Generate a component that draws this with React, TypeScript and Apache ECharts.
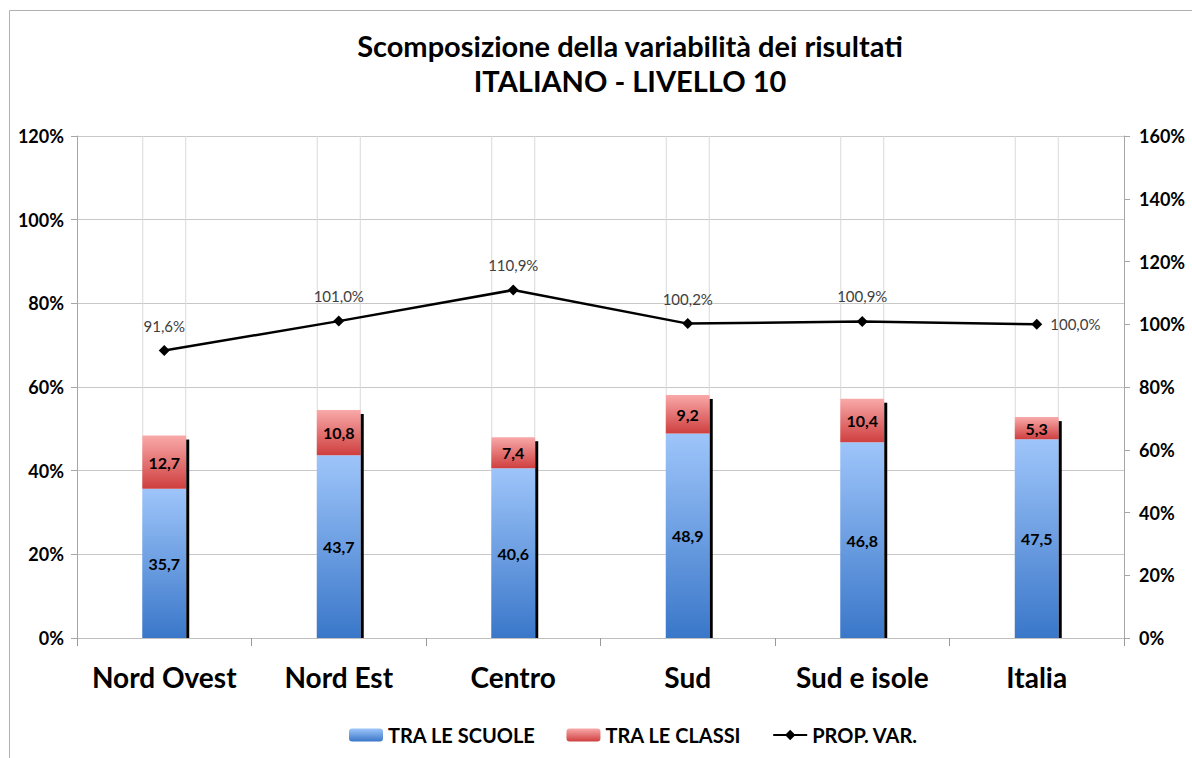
import React, { useEffect, useRef } from "react";
import * as echarts from "echarts";

const categories = ["Nord Ovest", "Nord Est", "Centro", "Sud", "Sud e isole", "Italia"];
const traLeScuole = [35.7, 43.7, 40.6, 48.9, 46.8, 47.5];
const traLeClassi = [12.7, 10.8, 7.4, 9.2, 10.4, 5.3];
const propVar = [91.6, 101.0, 110.9, 100.2, 100.9, 100.0];
const titleLines = ["Scomposizione della variabilità dei risultati", "ITALIANO - LIVELLO 10"];

const FONT = "Lato, 'Liberation Sans', sans-serif";
const fmt1 = (v: number) => v.toFixed(1).replace(".", ",");
const BAR_W = 44;

export default function App() {
  const ref = useRef<HTMLDivElement>(null);
  useEffect(() => {
    document.body.style.margin = "0";
    const chart = echarts.init(ref.current!, null, { renderer: "svg" });
    const totals = traLeScuole.map((v, i) => v + traLeClassi[i]);
    const option: any = {
      animation: false,
      backgroundColor: "#ffffff",
      textStyle: { fontFamily: FONT },
      graphic: [
        {
          type: "rect",
          shape: { x: 9.5, y: 10.5, width: 1400, height: 1000 },
          style: { fill: "none", stroke: "#b0b0b0", lineWidth: 1 },
          silent: true,
        },
        {
          type: "text",
          x: 630,
          y: 45,
          style: {
            text: titleLines[0],
            fontFamily: FONT,
            fontWeight: "bold",
            fontSize: 29,
            fill: "#000",
            textAlign: "center",
            textVerticalAlign: "middle",
          },
        },
        {
          type: "text",
          x: 630,
          y: 80,
          style: {
            text: titleLines[1],
            fontFamily: FONT,
            fontWeight: "bold",
            fontSize: 29,
            fill: "#000",
            textAlign: "center",
            textVerticalAlign: "middle",
          },
        },
      ],
      grid: { left: 77, right: 68, top: 136, bottom: 120, containLabel: false },
      legend: {
        bottom: 8,
        left: 344,
        itemWidth: 34,
        itemHeight: 13,
        itemGap: 31,
        data: ["TRA LE SCUOLE", "TRA LE CLASSI", "PROP. VAR."],
        textStyle: { fontFamily: FONT, fontWeight: "bold", fontSize: 20, color: "#000" },
      },
      xAxis: {
        type: "category",
        data: categories,
        axisLine: { lineStyle: { color: "#bfbfbf", width: 1 } },
        axisTick: { show: true, length: 8, interval: 0, lineStyle: { color: "#9a9a9a" } },
        axisLabel: {
          interval: 0,
          fontFamily: FONT,
          fontWeight: "bold",
          fontSize: 28,
          color: "#000",
          margin: 25,
        },
      },
      yAxis: [
        {
          type: "value",
          min: 0,
          max: 120,
          interval: 20,
          axisLine: { show: true, lineStyle: { color: "#a6a6a6" } },
          axisTick: { show: true, length: 6, lineStyle: { color: "#a6a6a6" } },
          axisLabel: {
            formatter: "{value}%",
            fontFamily: FONT,
            fontWeight: "bold",
            fontSize: 18,
            color: "#000",
            margin: 13,
          },
          splitLine: { show: true, lineStyle: { color: "#c8c8c8", width: 1 } },
        },
        {
          type: "value",
          min: 0,
          max: 160,
          interval: 20,
          position: "right",
          axisLine: { show: true, lineStyle: { color: "#a6a6a6" } },
          axisTick: { show: true, length: 6, lineStyle: { color: "#a6a6a6" } },
          axisLabel: {
            formatter: "{value}%",
            fontFamily: FONT,
            fontWeight: "bold",
            fontSize: 18,
            color: "#000",
            margin: 15,
          },
          splitLine: { show: false },
        },
      ],
      series: [
        {
          name: "grid-lines",
          type: "custom",
          yAxisIndex: 0,
          z: 1,
          silent: true,
          data: totals.map((t, i) => [i, t]),
          renderItem: (params: any, api: any) => {
            const top = api.coord([api.value(0), api.value(1)]);
            const cs = params.coordSys;
            const cx = top[0];
            const y0 = cs.y;
            return {
              type: "group",
              children: [
                {
                  type: "line",
                  shape: { x1: cx - BAR_W / 2 + 0.5, y1: y0, x2: cx - BAR_W / 2 + 0.5, y2: top[1] },
                  style: { stroke: "#d9d9d9", lineWidth: 1 },
                },
                {
                  type: "line",
                  shape: { x1: cx + BAR_W / 2 - 0.5, y1: y0, x2: cx + BAR_W / 2 - 0.5, y2: top[1] },
                  style: { stroke: "#d9d9d9", lineWidth: 1 },
                },
              ],
            };
          },
        },
        {
          name: "TRA LE SCUOLE",
          type: "bar",
          stack: "v",
          barWidth: BAR_W,
          z: 2,
          data: traLeScuole,
          itemStyle: {
            color: new echarts.graphic.LinearGradient(0, 0, 0, 1, [
              { offset: 0, color: "#9ec5fa" },
              { offset: 1, color: "#3a77c9" },
            ]),
          },
          label: {
            show: true,
            position: "inside",
            formatter: (p: any) => fmt1(p.value),
            fontFamily: FONT,
            fontWeight: "bold",
            fontSize: 16,
            color: "#000",
          },
        },
        {
          name: "TRA LE CLASSI",
          type: "bar",
          stack: "v",
          barWidth: BAR_W,
          z: 2,
          data: traLeClassi,
          itemStyle: {
            color: new echarts.graphic.LinearGradient(0, 0, 0, 1, [
              { offset: 0, color: "#f9a9a9" },
              { offset: 1, color: "#cf3f3f" },
            ]),
          },
          label: {
            show: true,
            position: "inside",
            formatter: (p: any) => fmt1(p.value),
            fontFamily: FONT,
            fontWeight: "bold",
            fontSize: 16,
            color: "#000",
          },
        },
        {
          name: "shadow",
          type: "custom",
          yAxisIndex: 0,
          z: 3,
          silent: true,
          data: totals.map((t, i) => [i, t]),
          renderItem: (params: any, api: any) => {
            const top = api.coord([api.value(0), api.value(1)]);
            const base = api.coord([api.value(0), 0]);
            const cx = top[0];
            return {
              type: "rect",
              shape: { x: cx + BAR_W / 2, y: top[1] + 4, width: 3, height: base[1] - top[1] - 4 },
              style: { fill: "#000" },
            };
          },
        },
        {
          name: "PROP. VAR.",
          type: "line",
          yAxisIndex: 1,
          z: 4,
          data: propVar.map((v, i) =>
            i === propVar.length - 1
              ? { value: v, label: { position: "right", distance: 8 } }
              : v
          ),
          symbol: "diamond",
          symbolSize: 11,
          color: "#000",
          lineStyle: { color: "#000", width: 2.5 },
          itemStyle: { color: "#000" },
          label: {
            show: true,
            position: "top",
            distance: 12,
            formatter: (p: any) => fmt1(p.value) + "%",
            fontFamily: FONT,
            fontSize: 15,
            color: "#404040",
          },
        },
      ],
    };
    chart.setOption(option);
    return () => chart.dispose();
  }, []);
  return <div ref={ref} style={{ width: 1192, height: 758 }} />;
}
